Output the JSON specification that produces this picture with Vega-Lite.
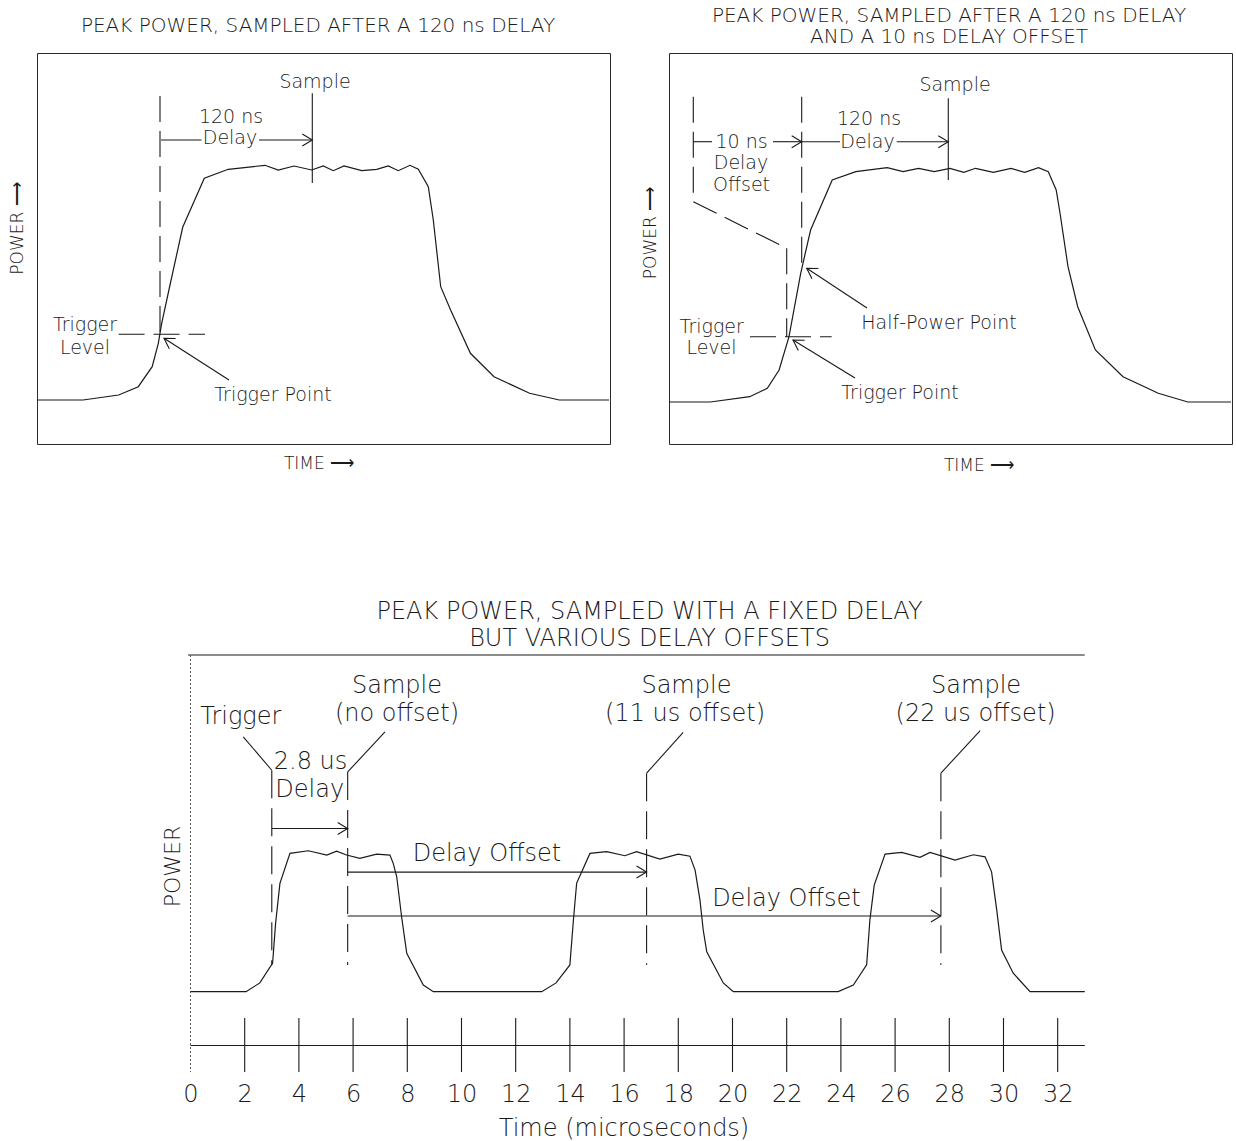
{
  "$schema": "https://vega.github.io/schema/vega-lite/v6.json",
  "padding": {"left": 8, "top": 5, "right": 2, "bottom": 0},
  "background": "white",
  "spacing": 125,
  "config": {
    "view": {"stroke": "#2a2a2a", "strokeWidth": 1},
    "font": "DejaVu Sans",
    "axis": {"titleFont": "DejaVu Sans", "labelFont": "DejaVu Sans", "titleFontWeight": 200, "labelFontWeight": 200, "titleColor": "#1a1a1a", "labelColor": "#1a1a1a", "grid": false},
    "title": {"font": "DejaVu Sans", "fontWeight": 200, "color": "#1a1a1a"},
    "text": {"font": "DejaVu Sans", "fontWeight": 200, "color": "#1a1a1a"}
  },
  "datasets": {
    "tl_pulse": [
      {"t": 1, "p": 0}, {"t": 46, "p": 0}, {"t": 81.6, "p": 5}, {"t": 101.3, "p": 13.3}, {"t": 115.2, "p": 33.3},
      {"t": 121.3, "p": 56.7}, {"t": 124.7, "p": 76.7}, {"t": 133, "p": 115}, {"t": 145.7, "p": 172.7}, {"t": 167.3, "p": 221.7},
      {"t": 191.3, "p": 230.7}, {"t": 209.7, "p": 232.7}, {"t": 228, "p": 234.7}, {"t": 241.3, "p": 230}, {"t": 257, "p": 234},
      {"t": 274.7, "p": 230}, {"t": 286.3, "p": 234}, {"t": 296.3, "p": 229.3}, {"t": 307, "p": 234}, {"t": 324.7, "p": 229.3},
      {"t": 339.7, "p": 230.7}, {"t": 351.3, "p": 234}, {"t": 361.3, "p": 229.3}, {"t": 373, "p": 234.7}, {"t": 381.3, "p": 230.7},
      {"t": 391.3, "p": 213.3}, {"t": 396.3, "p": 180}, {"t": 403.7, "p": 113.3}, {"t": 413.6, "p": 90}, {"t": 433.4, "p": 46.7},
      {"t": 457, "p": 23.3}, {"t": 492.6, "p": 6.7}, {"t": 522.3, "p": 0}, {"t": 572, "p": 0}
    ],
    "tl_solid": [
      {"t": 124, "p": 260, "t2": 164.6, "p2": 260},
      {"t": 222, "p": 260, "t2": 275.3, "p2": 260},
      {"t": 275.3, "p": 306.7, "t2": 275.3, "p2": 217},
      {"t": 192, "p": 20, "t2": 127, "p2": 61.7}
    ],
    "tl_dashed": [
      {"t": 123, "p": 304, "t2": 123, "p2": 64},
      {"t": 81.6, "p": 65.7, "t2": 168, "p2": 65.7}
    ],
    "tl_head_right": [{"t": 275.3, "p": 260}],
    "tl_head_diag": [{"t": 127, "p": 61.7}],
    "tl_text": [
      {"t": 278, "p": 318.3, "label": "Sample"},
      {"t": 194, "p": 283.3, "label": "120 ns"},
      {"t": 193, "p": 261.7, "label": "Delay"},
      {"t": 48, "p": 75, "label": "Trigger"},
      {"t": 48, "p": 52, "label": "Level"},
      {"t": 236, "p": 5, "label": "Trigger Point"}
    ],
    "tr_pulse": [
      {"t": 0, "p": 0}, {"t": 41.4, "p": 0}, {"t": 80.7, "p": 5.3}, {"t": 98.3, "p": 13.7}, {"t": 110.1, "p": 32},
      {"t": 120, "p": 65.3}, {"t": 131.7, "p": 128.7}, {"t": 141.6, "p": 172}, {"t": 163.2, "p": 222}, {"t": 186.8, "p": 230.3},
      {"t": 218.2, "p": 234.3}, {"t": 234, "p": 230.3}, {"t": 249.6, "p": 233.7}, {"t": 265.3, "p": 230.3}, {"t": 281, "p": 233.7},
      {"t": 294.8, "p": 229.7}, {"t": 306.6, "p": 233.7}, {"t": 324.3, "p": 229.7}, {"t": 342, "p": 233.7}, {"t": 355.7, "p": 229.7},
      {"t": 369.5, "p": 234.3}, {"t": 379.3, "p": 230.3}, {"t": 387.2, "p": 212}, {"t": 391, "p": 189}, {"t": 399, "p": 135.3},
      {"t": 408.7, "p": 95.3}, {"t": 426.4, "p": 52}, {"t": 454, "p": 25.3}, {"t": 489.3, "p": 8.7}, {"t": 518.8, "p": 0},
      {"t": 562, "p": 0}
    ],
    "tr_solid": [
      {"t": 24.3, "p": 260.3, "t2": 43, "p2": 260.3},
      {"t": 104, "p": 260.3, "t2": 132.7, "p2": 260.3},
      {"t": 132.7, "p": 260.3, "t2": 171, "p2": 260.3},
      {"t": 227.7, "p": 260.3, "t2": 279.3, "p2": 260.3},
      {"t": 279.3, "p": 303.7, "t2": 279.3, "p2": 222},
      {"t": 198, "p": 94, "t2": 137.7, "p2": 133.7},
      {"t": 186, "p": 24, "t2": 124, "p2": 62}
    ],
    "tr_dashed": [
      {"t": 24.3, "p": 305.3, "t2": 24.3, "p2": 200.3},
      {"t": 24.3, "p": 200.3, "t2": 117.7, "p2": 153.7},
      {"t": 117.7, "p": 153.7, "t2": 117.7, "p2": 65.3},
      {"t": 132.7, "p": 305.3, "t2": 132.7, "p2": 135},
      {"t": 81, "p": 65.3, "t2": 162.7, "p2": 65.3}
    ],
    "tr_head_right": [{"t": 132.7, "p": 260.3}, {"t": 279.3, "p": 260.3}],
    "tr_head_diag": [{"t": 137.7, "p": 133.7}, {"t": 124, "p": 62}],
    "tr_text": [
      {"t": 286, "p": 317, "label": "Sample"},
      {"t": 200, "p": 282.7, "label": "120 ns"},
      {"t": 198.5, "p": 260.3, "label": "Delay"},
      {"t": 72.5, "p": 260.3, "label": "10 ns"},
      {"t": 72, "p": 238.7, "label": "Delay"},
      {"t": 72.5, "p": 217, "label": "Offset"},
      {"t": 270, "p": 79, "label": "Half-Power Point"},
      {"t": 42.7, "p": 75.3, "label": "Trigger"},
      {"t": 42.5, "p": 53.7, "label": "Level"},
      {"t": 231, "p": 8.7, "label": "Trigger Point"}
    ],
    "bt_pulse": [
      {"t": 0, "p": 0}, {"t": 2.05, "p": 0}, {"t": 2.56, "p": 6.3}, {"t": 3.03, "p": 20.7}, {"t": 3.14, "p": 49.3},
      {"t": 3.3, "p": 78.2}, {"t": 3.67, "p": 99.8}, {"t": 4.35, "p": 101.7}, {"t": 5.03, "p": 98.6}, {"t": 5.39, "p": 101.4},
      {"t": 5.76, "p": 98.6}, {"t": 6.25, "p": 96.2}, {"t": 6.87, "p": 99.3}, {"t": 7.36, "p": 98.6}, {"t": 7.48, "p": 92.6},
      {"t": 7.61, "p": 82.9}, {"t": 7.79, "p": 54.1}, {"t": 7.98, "p": 27.7}, {"t": 8.59, "p": 4.8}, {"t": 8.96, "p": 0},
      {"t": 12.96, "p": 0}, {"t": 13.49, "p": 6.3}, {"t": 14.0, "p": 19.3}, {"t": 14.13, "p": 51.7}, {"t": 14.25, "p": 78.4},
      {"t": 14.74, "p": 99.8}, {"t": 15.36, "p": 101}, {"t": 16.03, "p": 98.1}, {"t": 16.46, "p": 101}, {"t": 17.32, "p": 95.7},
      {"t": 18.0, "p": 99.3}, {"t": 18.43, "p": 97.8}, {"t": 18.62, "p": 87.7}, {"t": 18.8, "p": 66.1}, {"t": 18.92, "p": 44.5},
      {"t": 19.05, "p": 28.8}, {"t": 19.66, "p": 6.3}, {"t": 20.03, "p": 0},
      {"t": 23.9, "p": 0}, {"t": 24.46, "p": 4.8}, {"t": 24.95, "p": 19.3}, {"t": 25.07, "p": 51.7}, {"t": 25.23, "p": 76.9},
      {"t": 25.63, "p": 99.3}, {"t": 26.24, "p": 100.5}, {"t": 26.92, "p": 96.9}, {"t": 27.29, "p": 100.5}, {"t": 28.21, "p": 95},
      {"t": 28.89, "p": 98.8}, {"t": 29.32, "p": 97.3}, {"t": 29.56, "p": 86.5}, {"t": 29.75, "p": 59}, {"t": 29.93, "p": 30},
      {"t": 30.36, "p": 13.3}, {"t": 30.98, "p": 0}, {"t": 33.0, "p": 0}
    ],
    "bt_solid": [
      {"t": -0.09, "p": 243, "t2": 33.0, "p2": 243},
      {"t": 0, "p": -38.9, "t2": 33.0, "p2": -38.9},
      {"t": 1.948, "p": 183.9, "t2": 3.0, "p2": 159.8},
      {"t": 7.177, "p": 187.5, "t2": 5.8, "p2": 158.6},
      {"t": 18.18, "p": 187.2, "t2": 16.83, "p2": 157.7},
      {"t": 29.14, "p": 188.5, "t2": 27.69, "p2": 157.7},
      {"t": 3.0, "p": 117.8, "t2": 5.8, "p2": 117.8},
      {"t": 5.8, "p": 86.3, "t2": 16.83, "p2": 86.3},
      {"t": 5.8, "p": 54.6, "t2": 27.69, "p2": 54.6}
    ],
    "bt_dashed": [
      {"t": 3.0, "p": 159.8, "t2": 3.0, "p2": 19.3},
      {"t": 5.8, "p": 158.6, "t2": 5.8, "p2": 19.3},
      {"t": 16.83, "p": 157.7, "t2": 16.83, "p2": 19.3},
      {"t": 27.69, "p": 157.7, "t2": 27.69, "p2": 19.3}
    ],
    "bt_dotted": [{"t": 0, "p": 243, "t2": 0, "p2": -58}],
    "bt_ticks": [
      {"t": 2}, {"t": 4}, {"t": 6}, {"t": 8}, {"t": 10}, {"t": 12}, {"t": 14}, {"t": 16},
      {"t": 18}, {"t": 20}, {"t": 22}, {"t": 24}, {"t": 26}, {"t": 28}, {"t": 30}, {"t": 32}
    ],
    "bt_head": [{"t": 5.8, "p": 117.8}, {"t": 16.83, "p": 86.3}, {"t": 27.69, "p": 54.6}],
    "bt_text": [
      {"t": 1.856, "p": 198.1, "label": "Trigger"},
      {"t": 7.62, "p": 220.4, "label": "Sample"},
      {"t": 7.62, "p": 200.2, "label": "(no offset)"},
      {"t": 18.3, "p": 220.4, "label": "Sample"},
      {"t": 18.25, "p": 200.2, "label": "(11 us offset)"},
      {"t": 28.99, "p": 220.4, "label": "Sample"},
      {"t": 28.97, "p": 200.2, "label": "(22 us offset)"},
      {"t": 4.43, "p": 165.8, "label": "2.8 us"},
      {"t": 4.4, "p": 145.4, "label": "Delay"},
      {"t": 10.94, "p": 99.5, "label": "Delay Offset"},
      {"t": 21.99, "p": 67, "label": "Delay Offset"}
    ]
  },
  "vconcat": [
    {
      "hconcat": [
        {
          "width": 573,
          "height": 391,
          "title": {"text": "PEAK POWER, SAMPLED AFTER A 120 ns DELAY", "fontSize": 20, "fontWeight": 200, "anchor": "middle", "frame": "group", "baseline": "bottom", "offset": -2.5, "dx": -5.5},
          "encoding": {
            "x": {"field": "t", "type": "quantitative", "scale": {"domain": [0, 573], "nice": false, "zero": false},
                  "axis": {"title": "TIME ⟶", "labels": false, "ticks": false, "domain": false, "grid": false, "titleFontSize": 17, "titleX": 281.5, "titleY": 11.8, "titleBaseline": "top", "titleAlign": "center"}},
            "y": {"field": "p", "type": "quantitative", "scale": {"domain": [-44, 347], "nice": false, "zero": false},
                  "axis": {"title": "POWER ⟶", "labels": false, "ticks": false, "domain": false, "grid": false, "titleFontSize": 17, "titleX": -10.2, "titleY": 175, "titleAngle": 270, "titleBaseline": "bottom", "titleAlign": "center"}}
          },
          "layer": [
            {"data": {"name": "tl_pulse"}, "mark": {"type": "line", "color": "#1a1a1a", "strokeWidth": 1.2}},
            {"data": {"name": "tl_solid"}, "mark": {"type": "rule", "color": "#1a1a1a", "strokeWidth": 1.1}, "encoding": {"x2": {"field": "t2"}, "y2": {"field": "p2"}}},
            {"data": {"name": "tl_dashed"}, "mark": {"type": "rule", "color": "#1a1a1a", "strokeWidth": 1.1, "strokeDash": [26, 9]}, "encoding": {"x2": {"field": "t2"}, "y2": {"field": "p2"}}},
            {"data": {"name": "tl_head_right"}, "mark": {"type": "point", "shape": "M-1,-0.6L0,0L-1,0.6", "filled": false, "size": 400, "color": "#1a1a1a", "strokeWidth": 1.1, "opacity": 1}},
            {"data": {"name": "tl_head_diag"}, "mark": {"type": "point", "shape": "M-1,-0.6L0,0L-1,0.6", "filled": false, "size": 400, "angle": 212, "color": "#1a1a1a", "strokeWidth": 1.1, "opacity": 1}},
            {"data": {"name": "tl_text"}, "mark": {"type": "text", "fontSize": 19, "fontWeight": 200, "align": "center", "baseline": "middle", "color": "#1a1a1a"}, "encoding": {"text": {"field": "label"}}}
          ]
        },
        {
          "width": 563,
          "height": 391,
          "title": {"text": ["PEAK POWER, SAMPLED AFTER A 120 ns DELAY", "AND A 10 ns DELAY OFFSET"], "fontSize": 20, "fontWeight": 200, "lineHeight": 21.7, "anchor": "middle", "frame": "group", "baseline": "bottom", "offset": -14.2, "dx": -1.5},
          "encoding": {
            "x": {"field": "t", "type": "quantitative", "scale": {"domain": [0, 563], "nice": false, "zero": false},
                  "axis": {"title": "TIME ⟶", "labels": false, "ticks": false, "domain": false, "grid": false, "titleFontSize": 17, "titleX": 309.5, "titleY": 13.8, "titleBaseline": "top", "titleAlign": "center"}},
            "y": {"field": "p", "type": "quantitative", "scale": {"domain": [-42, 349], "nice": false, "zero": false},
                  "axis": {"title": "POWER ⟶", "labels": false, "ticks": false, "domain": false, "grid": false, "titleFontSize": 17, "titleX": -9.2, "titleY": 179.5, "titleAngle": 270, "titleBaseline": "bottom", "titleAlign": "center"}}
          },
          "layer": [
            {"data": {"name": "tr_pulse"}, "mark": {"type": "line", "color": "#1a1a1a", "strokeWidth": 1.2}},
            {"data": {"name": "tr_solid"}, "mark": {"type": "rule", "color": "#1a1a1a", "strokeWidth": 1.1}, "encoding": {"x2": {"field": "t2"}, "y2": {"field": "p2"}}},
            {"data": {"name": "tr_dashed"}, "mark": {"type": "rule", "color": "#1a1a1a", "strokeWidth": 1.1, "strokeDash": [26, 9]}, "encoding": {"x2": {"field": "t2"}, "y2": {"field": "p2"}}},
            {"data": {"name": "tr_head_right"}, "mark": {"type": "point", "shape": "M-1,-0.6L0,0L-1,0.6", "filled": false, "size": 400, "color": "#1a1a1a", "strokeWidth": 1.1, "opacity": 1}},
            {"data": {"name": "tr_head_diag"}, "mark": {"type": "point", "shape": "M-1,-0.6L0,0L-1,0.6", "filled": false, "size": 400, "angle": 212, "color": "#1a1a1a", "strokeWidth": 1.1, "opacity": 1}},
            {"data": {"name": "tr_text"}, "mark": {"type": "text", "fontSize": 19, "fontWeight": 200, "align": "center", "baseline": "middle", "color": "#1a1a1a"}, "encoding": {"text": {"field": "label"}}}
          ]
        }
      ],
      "bounds": "flush",
      "spacing": 59
    },
    {
      "width": 1195,
      "height": 417,
      "view": {"stroke": null},
      "title": {"text": ["PEAK POWER, SAMPLED WITH A FIXED DELAY", "BUT VARIOUS DELAY OFFSETS"], "fontSize": 24, "fontWeight": 200, "lineHeight": 27, "anchor": "middle", "frame": "group", "baseline": "bottom", "offset": -20.8, "dx": 15},
      "encoding": {
        "x": {"field": "t", "type": "quantitative", "scale": {"domain": [-5.664, 38.432], "nice": false, "zero": false},
              "axis": {"title": "Time (microseconds)", "values": [0, 2, 4, 6, 8, 10, 12, 14, 16, 18, 20, 22, 24, 26, 28, 30, 32], "ticks": false, "tickSize": 0, "domain": false, "grid": false, "labelFontSize": 24, "labelPadding": 10.8, "labelOverlap": false, "labelFlush": false, "titleFontSize": 24, "titleX": 586.5, "titleY": 44.8, "titleBaseline": "top", "titleAlign": "center"}}
      },
      "layer": [
        {"data": {"name": "bt_pulse"}, "mark": {"type": "line", "color": "#1a1a1a", "strokeWidth": 1.2},
         "encoding": {"y": {"field": "p", "type": "quantitative", "scale": {"domain": [-58, 243], "nice": false, "zero": false},
              "axis": {"title": "POWER", "labels": false, "ticks": false, "domain": false, "grid": false, "titleFontSize": 22, "titleX": 147.65, "titleY": 211, "titleAngle": 270, "titleBaseline": "bottom", "titleAlign": "center"}}}},
        {"data": {"name": "bt_solid"}, "mark": {"type": "rule", "color": "#1a1a1a", "strokeWidth": 1.1}, "encoding": {"y": {"field": "p", "type": "quantitative", "title": "POWER"}, "x2": {"field": "t2"}, "y2": {"field": "p2"}}},
        {"data": {"name": "bt_dashed"}, "mark": {"type": "rule", "color": "#1a1a1a", "strokeWidth": 1.1, "strokeDash": [28, 10]}, "encoding": {"y": {"field": "p", "type": "quantitative", "title": "POWER"}, "x2": {"field": "t2"}, "y2": {"field": "p2"}}},
        {"data": {"name": "bt_dotted"}, "mark": {"type": "rule", "color": "#555555", "strokeWidth": 1, "strokeDash": [2, 2]}, "encoding": {"y": {"field": "p", "type": "quantitative", "title": "POWER"}, "x2": {"field": "t2"}, "y2": {"field": "p2"}}},
        {"data": {"name": "bt_ticks"}, "mark": {"type": "rule", "color": "#1a1a1a", "strokeWidth": 1.1}, "encoding": {"y": {"datum": -19, "type": "quantitative"}, "y2": {"datum": -58}}},
        {"data": {"name": "bt_head"}, "mark": {"type": "point", "shape": "M-1,-0.6L0,0L-1,0.6", "filled": false, "size": 400, "color": "#1a1a1a", "strokeWidth": 1.1, "opacity": 1}, "encoding": {"y": {"field": "p", "type": "quantitative", "title": "POWER"}}},
        {"data": {"name": "bt_text"}, "mark": {"type": "text", "fontSize": 24, "fontWeight": 200, "align": "center", "baseline": "middle", "color": "#1a1a1a"}, "encoding": {"y": {"field": "p", "type": "quantitative", "title": "POWER"}, "text": {"field": "label"}}}
      ]
    }
  ]
}
